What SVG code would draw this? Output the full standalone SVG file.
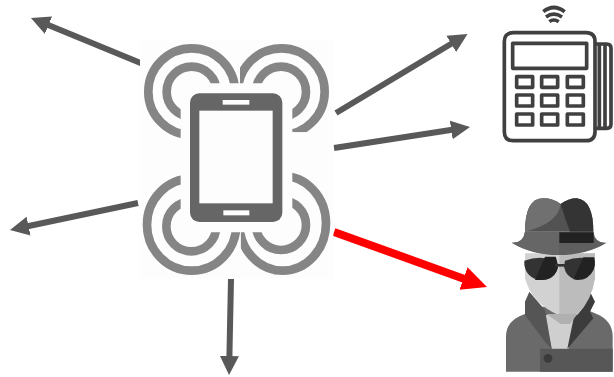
<svg xmlns="http://www.w3.org/2000/svg" width="614" height="377" viewBox="0 0 614 377">
<style>
.a{stroke:#595959;stroke-width:6;fill:none}
.r{stroke:#f00;stroke-width:8;fill:none}
.o{fill:none;stroke:#858585;stroke-width:26}
.t{fill:none;stroke:#404040;stroke-width:11;stroke-linejoin:round}
</style>
<defs>
<marker id="ag" markerUnits="userSpaceOnUse" markerWidth="20" markerHeight="20" refX="1" refY="10" orient="auto"><path d="M0 .5L19 10L0 19.5Z" fill="#595959"/></marker>
<marker id="ar" markerUnits="userSpaceOnUse" markerWidth="26" markerHeight="26" refX="1" refY="13" orient="auto"><path d="M0 1L25 13L0 25Z" fill="#f00"/></marker>
<clipPath id="c1"><path d="M0 0H328V160H152V400H0Z"/></clipPath>
<clipPath id="c2"><path d="M330 0H660V307H487V160H330Z"/></clipPath>
<clipPath id="c3"><path d="M0 400H152V607H330V780H0Z"/></clipPath>
<clipPath id="c4"><path d="M487 400H660V780H332V607H487Z"/></clipPath>
<filter id="b"><feGaussianBlur stdDeviation="1.5"/></filter>
</defs>
<g id="connectors">
<line class="a" x1="143" y1="64" x2="47.6" y2="24.8" marker-end="url(#ag)"/>
<line class="a" x1="336" y1="113" x2="452.1" y2="43.3" marker-end="url(#ag)"/>
<line class="a" x1="334" y1="148" x2="452.2" y2="129.8" marker-end="url(#ag)"/>
<line class="a" x1="138" y1="203" x2="27.6" y2="226.3" marker-end="url(#ag)"/>
<line class="a" x1="231" y1="279" x2="229.4" y2="357" marker-end="url(#ag)"/>
<line class="r" x1="334" y1="232" x2="464.4" y2="278.9" marker-end="url(#ar)"/>
</g>
<g id="phone" transform="translate(130 30) scale(.33333)">
<rect x="30" y="30" width="580" height="715" fill="#fdfdfd"/>
<g clip-path="url(#c1)"><circle class="o" cx="185" cy="185" r="130"/><circle class="o" cx="185" cy="185" r="75"/></g>
<g clip-path="url(#c2)"><circle class="o" cx="454" cy="185" r="130"/><circle class="o" cx="453" cy="185" r="75"/></g>
<g clip-path="url(#c3)"><ellipse class="o" cx="185" cy="584" rx="134" ry="138"/><circle class="o" cx="184" cy="589" r="75"/></g>
<g clip-path="url(#c4)"><ellipse class="o" cx="458" cy="580" rx="130" ry="142"/><circle class="o" cx="453" cy="585" r="75"/></g>
<rect x="180" y="190" width="277" height="386" rx="28" fill="#666"/>
<rect x="208" y="242" width="220" height="278" fill="#fdfdfd"/>
<rect x="278" y="210" width="80" height="14" fill="#fdfdfd"/>
<rect x="280" y="541" width="78" height="15" fill="#fdfdfd"/>
</g>
<g id="terminal" transform="translate(490 0) scale(.33333)" filter="url(#b)">
<path class="t" d="M85 422H70Q43 422 43 395V125Q43 98 70 98H288Q315 98 315 125V395Q315 422 288 422H85M205 422H225M240 422H250"/>
<rect class="t" x="68" y="130" width="222" height="75"/>
<g fill="#ccc">
<rect class="t" x="80" y="230" width="48" height="32"/><rect class="t" x="155" y="230" width="48" height="32"/><rect class="t" x="232" y="230" width="48" height="32"/>
<rect class="t" x="80" y="285" width="48" height="33"/><rect class="t" x="155" y="285" width="48" height="33"/><rect class="t" x="232" y="285" width="48" height="33"/>
<rect class="t" x="80" y="342" width="48" height="33"/><rect class="t" x="155" y="342" width="48" height="33"/><rect class="t" x="232" y="342" width="48" height="33"/>
</g>
<path class="t" d="M315 132H350Q363 132 363 145V372Q363 385 350 385H315M328 132V385M345 132V385"/>
<path class="t" fill="none" d="M160 35Q191 10 224 35M168 51Q191 34 216 51M178 65Q191 55 206 65"/>
</g>
<g id="spy" transform="translate(490 190) scale(.33333)">
<path d="M48 545V440Q48 390 105 372L150 350H270L320 372Q368 392 368 440V545Z" fill="#6a6a6a"/>
<path d="M150 476H368V545H150Z" fill="#575757"/>
<circle cx="174" cy="505" r="13" fill="#3a3a3a"/>
<path d="M165 375H262L235 476H185Z" fill="#cfcfcf"/>
<path d="M105 335L118 305L165 360L185 476L165 455L105 375Z" fill="#555"/>
<path d="M315 335L300 305L255 365L232 476L310 385L300 365Z" fill="#3c3c3c"/>
<path d="M105 190H315V265Q305 330 262 375L205 375Q125 340 105 265Z" fill="#d2d2d2"/>
<path d="M208 190H315V265Q305 330 262 372L208 372Z" fill="#bcbcbc"/>
<path d="M208 372L262 372L240 402H212L170 372Z" fill="#b0b0b0"/>
<path d="M105 125Q105 25 160 25Q190 25 212 42Q235 25 260 25Q310 30 310 125Z" fill="#525252"/>
<path d="M105 125Q105 25 160 25Q190 25 212 42Q205 100 105 125Z" fill="#707070"/>
<path d="M212 42Q235 25 260 25Q310 30 310 125H240Q225 85 212 42Z" fill="#343434"/>
<path d="M65 158Q100 160 105 125H310Q315 160 350 158Q290 195 207 195Q125 195 65 158Z" fill="#5f5f5f"/>
<path d="M105 125H208V195Q130 195 65 158Q100 160 105 125Z" fill="#666"/>
<rect x="208" y="127" width="103" height="32" fill="#222"/>
<path d="M103 212Q150 195 197 212Q205 222 203 235Q192 272 150 270Q110 265 103 225ZM225 212Q270 195 313 210Q317 225 310 240Q295 272 260 270Q228 262 222 230Z" fill="#333"/>
<path d="M165 200H197Q205 222 203 235Q192 272 150 270H135ZM280 202H313Q317 225 310 240Q295 272 250 268Z" fill="#222"/>
<rect x="195" y="222" width="35" height="8" fill="#333"/>
</g>
</svg>
